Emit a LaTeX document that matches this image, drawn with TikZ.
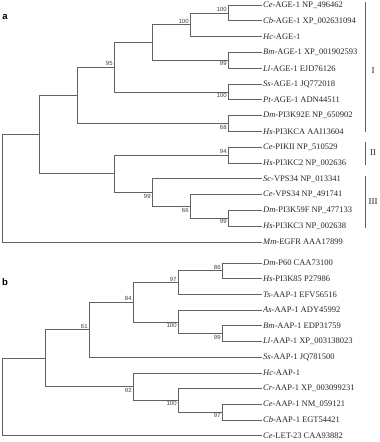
\documentclass[tikz,border=0pt]{standalone}
\usepackage{fontspec}
\setmainfont{Liberation Serif}
\setsansfont{Liberation Sans}
\usetikzlibrary{positioning}

\begin{document}
\begin{tikzpicture}[x=1pt,y=-1pt,
  branch/.style={draw=black!62,line width=0.75pt},
  leaf/.style={anchor=west,inner sep=1pt,text=black!85,font=\fontsize{8.5}{9}\selectfont},
  boot/.style={inner sep=1.2pt,text=black!75,font=\sffamily\fontsize{6}{7}\selectfont},
  bootup/.style={boot,anchor=south east},
  bootdown/.style={boot,anchor=north east},
  panel/.style={font=\sffamily\bfseries\fontsize{9.5}{10}\selectfont},
  clade/.style={text=black!85,font=\fontsize{9}{10}\selectfont}]
\useasboundingbox (0,0) rectangle (380,442);
% panel a
\node[panel] (pa) at (5,17) {a};
\foreach \n/\y/\t in {a1/5/\textit{Ce}-AGE-1 NP\_496462,a2/20.8/\textit{Cb}-AGE-1 XP\_002631094,
  a3/36.6/\textit{Hc}-AGE-1,a4/52.4/\textit{Bm}-AGE-1 XP\_001902593,a5/68.2/\textit{Ll}-AGE-1 EJD76126,
  a6/84/\textit{Ss}-AGE-1 JQ772018,a7/99.8/\textit{Pt}-AGE-1 ADN44511,a8/115.6/\textit{Dm}-PI3K92E NP\_650902,
  a9/131.4/\textit{Hs}-PI3KCA AAI13604,a10/147.2/\textit{Ce}-PIKII NP\_510529,a11/163/\textit{Hs}-PI3KC2 NP\_002636,
  a12/178.8/\textit{Sc}-VPS34 NP\_013341,a13/194.6/\textit{Ce}-VPS34 NP\_491741,a14/210.4/\textit{Dm}-PI3K59F NP\_477133,
  a15/226.2/\textit{Hs}-PI3KC3 NP\_002638,a16/242/\textit{Mm}-EGFR AAA17899}
  \node[leaf] (\n) at (262,\y) {\t};
\coordinate (nCeCb) at (228,12.9);
\coordinate (nHc) at (190,24.75);
\coordinate (nBmLl) at (228,60.3);
\coordinate (nAge) at (152,42.5);
\coordinate (nSsPt) at (228,91.9);
\coordinate (n95) at (114,67.2);
\coordinate (nDmHs) at (228,123.5);
\coordinate (nI) at (77,95.35);
\coordinate (nII) at (228,155.1);
\coordinate (nDmHs3) at (228,218.3);
\coordinate (n66) at (190,206.45);
\coordinate (nIII) at (152,192.6);
\coordinate (nIIb) at (114,173.85);
\coordinate (nA) at (39,134.6);
\coordinate (rootA) at (2,188.3);
\foreach \p/\c in {nCeCb/a1.west,nCeCb/a2.west,nHc/nCeCb,nHc/a3.west,nBmLl/a4.west,nBmLl/a5.west,
  nAge/nHc,nAge/nBmLl,nSsPt/a6.west,nSsPt/a7.west,n95/nAge,n95/nSsPt,nDmHs/a8.west,nDmHs/a9.west,
  nI/n95,nI/nDmHs,nII/a10.west,nII/a11.west,nDmHs3/a14.west,nDmHs3/a15.west,n66/a13.west,n66/nDmHs3,
  nIII/a12.west,nIII/n66,nIIb/nII,nIIb/nIII,nA/nI,nA/nIIb,rootA/nA,rootA/a16.west}
  \draw[branch] (\p) |- (\c);
\node[bootup] (sa1) at (nCeCb) {100};
\node[bootup] (sa2) at (nHc) {100};
\node[bootdown] (sa3) at (nBmLl) {99};
\node[bootdown] (sa4) at (nSsPt) {100};
\node[bootup] (sa5) at (n95) {95};
\node[bootdown] (sa6) at (nDmHs) {68};
\node[bootup] (sa7) at (nII) {94};
\node[bootdown] (sa8) at (nIII) {99};
\node[bootdown] (sa9) at (n66) {66};
\node[bootdown] (sa10) at (nDmHs3) {99};
% clades
\coordinate (cIt) at (365,2); \coordinate (cIb) at (365,132);
\coordinate (cIIt) at (365,142); \coordinate (cIIb) at (365,165);
\coordinate (cIIIt) at (365,176); \coordinate (cIIIb) at (365,228);
\draw[branch] (cIt) -- (cIb);
\draw[branch] (cIIt) -- (cIIb);
\draw[branch] (cIIIt) -- (cIIIb);
\node[clade] (kI) at (373,71) {I};
\node[clade] (kII) at (373,153) {II};
\node[clade] (kIII) at (373,202) {III};
% panel b
\node[panel] (pb) at (5,282) {b};
\foreach \n/\y/\t in {b1/263/\textit{Dm}-P60 CAA73100,b2/278.7/\textit{Hs}-PI3K85 P27986,b3/294.4/\textit{Ts}-AAP-1 EFV56516,
  b4/310.1/\textit{As}-AAP-1 ADY45992,b5/325.8/\textit{Bm}-AAP-1 EDP31759,b6/341.5/\textit{Ll}-AAP-1 XP\_003138023,
  b7/357.2/\textit{Ss}-AAP-1 JQ781500,b8/372.9/\textit{Hc}-AAP-1,b9/388.6/\textit{Cr}-AAP-1 XP\_003099231,
  b10/404.3/\textit{Ce}-AAP-1 NM\_059121,b11/420/\textit{Cb}-AAP-1 EGT54421,b12/435.7/\textit{Ce}-LET-23 CAA93882}
  \node[leaf] (\n) at (262,\y) {\t};
\coordinate (n86) at (222,270.85);
\coordinate (n97) at (178,282.6);
\coordinate (n99) at (222,333.65);
\coordinate (n100a) at (178,321.9);
\coordinate (n84) at (133,302.25);
\coordinate (n61) at (89,329.7);
\coordinate (n97b) at (222,412.15);
\coordinate (n100b) at (178,400.4);
\coordinate (n92) at (133,386.65);
\coordinate (nB) at (45,358.2);
\coordinate (rootB) at (2,396.95);
\foreach \p/\c in {n86/b1.west,n86/b2.west,n97/n86,n97/b3.west,n99/b5.west,n99/b6.west,n100a/b4.west,n100a/n99,
  n84/n97,n84/n100a,n61/n84,n61/b7.west,n97b/b10.west,n97b/b11.west,n100b/b9.west,n100b/n97b,
  n92/b8.west,n92/n100b,nB/n61,nB/n92,rootB/nB,rootB/b12.west}
  \draw[branch] (\p) |- (\c);
\node[bootup] (sb1) at (n86) {86};
\node[bootup] (sb2) at (n97) {97};
\node[bootdown] (sb3) at (n99) {99};
\node[bootdown] (sb4) at (n100a) {100};
\node[bootup] (sb5) at (n84) {84};
\node[bootup] (sb6) at (n61) {61};
\node[bootdown] (sb7) at (n97b) {97};
\node[bootdown] (sb8) at (n100b) {100};
\node[bootdown] (sb9) at (n92) {92};
\end{tikzpicture}
\end{document}
